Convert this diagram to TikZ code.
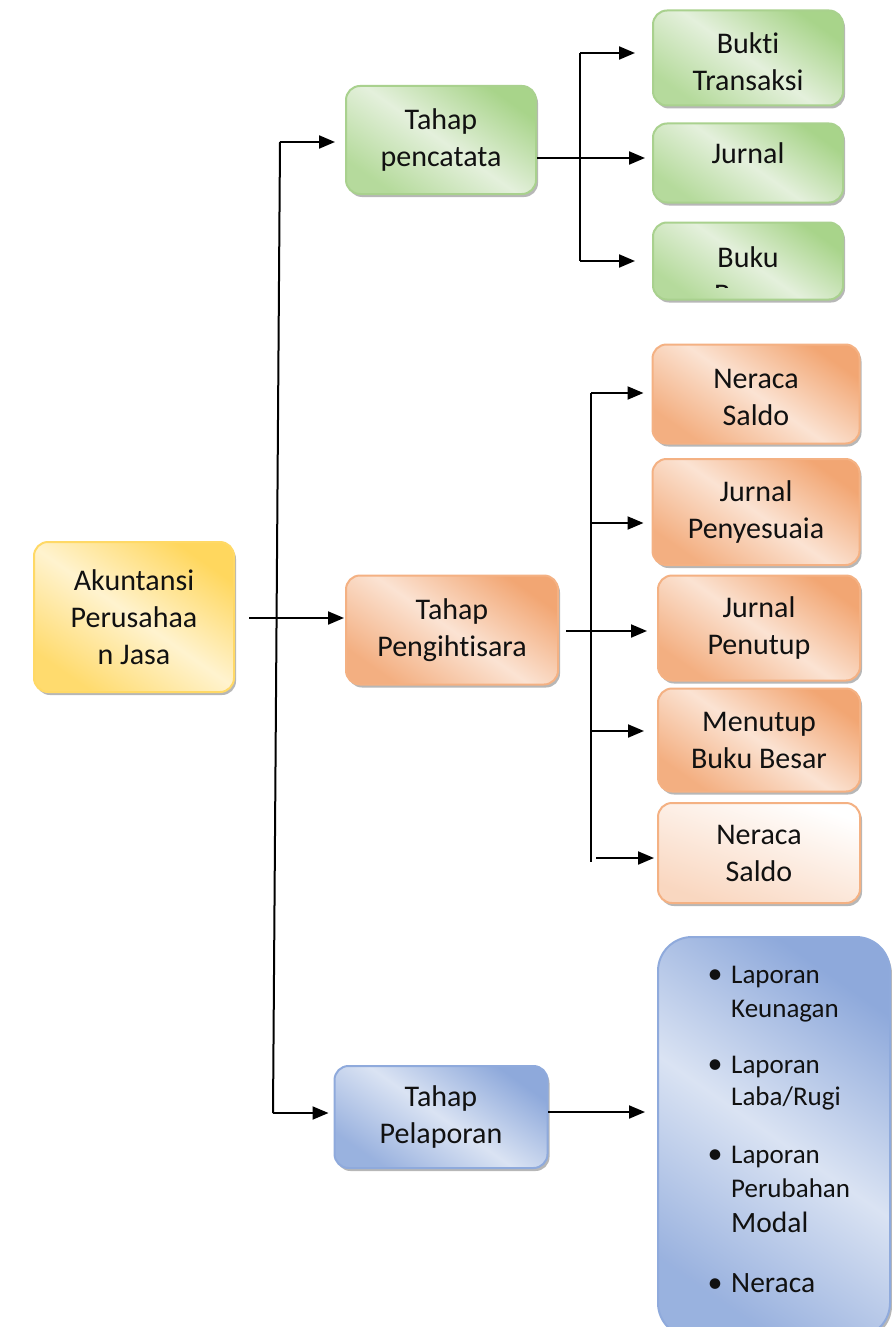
\documentclass[tikz,border=0pt]{standalone}
\usepackage{fontspec}
\setmainfont{Carlito}[RawFeature=-liga]
\usetikzlibrary{arrows.meta,shadows}
\definecolor{grnB}{HTML}{A9D18E}
\definecolor{grnD}{HTML}{A8D48A}
\definecolor{grnL}{HTML}{E4F0DC}
\definecolor{orgB}{HTML}{F4B183}
\definecolor{orgD}{HTML}{F2A673}
\definecolor{orgL}{HTML}{FBE3D3}
\definecolor{ylwB}{HTML}{FFD966}
\definecolor{ylwD}{HTML}{FFD75E}
\definecolor{ylwL}{HTML}{FFF3CF}
\definecolor{bluB}{HTML}{8FAADC}
\definecolor{bluD}{HTML}{8EA9DB}
\definecolor{bluL}{HTML}{DAE3F3}
\definecolor{txt}{HTML}{111111}
\newcommand{\lowertext}[2]{\raisebox{#1}[0pt][0pt]{\begin{tabular}{@{}c@{}}#2\end{tabular}}}
\begin{document}
\begin{tikzpicture}[x=1pt,y=-1pt,
  box/.style={rounded corners=14pt, draw, line width=2pt, align=center,
    text=txt, font=\fontsize{30}{37}\selectfont, inner sep=0pt,
    drop shadow={shadow xshift=2pt,shadow yshift=-3pt,fill=black!40,opacity=0.7}},
  grn/.style={box, draw=grnB, top color=grnD, bottom color=grnD!85!white, middle color=grnL, shading angle=-35},
  org/.style={box, draw=orgB, top color=orgD, bottom color=orgD!90!white, middle color=orgL, shading angle=-35},
  orgw/.style={box, draw=orgB, left color=white, right color=orgL!80!orgD, shading angle=-20},
  ylw/.style={box, draw=ylwB, top color=ylwD, bottom color=ylwD!90!white, middle color=ylwL, shading angle=-35},
  blu/.style={box, draw=bluB, top color=bluD, bottom color=bluD!90!white, middle color=bluL, shading angle=-35},
  conn/.style={line width=2pt, -{Triangle[length=16pt,width=13pt]}},
  trunk/.style={line width=2pt},
  btxt/.style={anchor=base west, inner sep=0pt, text=txt, font=\fontsize{27}{30}\selectfont},
  bbig/.style={anchor=base west, inner sep=0pt, text=txt, font=\fontsize{29.5}{30}\selectfont},
  bdot/.style={anchor=base, inner sep=0pt, text=txt, font=\fontsize{30}{30}\selectfont}
]
\useasboundingbox (0,0) rectangle (891,1327);
\fill[white] (0,0) rectangle (891,1327);

% nodes
\node[ylw, minimum width=200pt, minimum height=150pt] (akun) at (134,617) {Akuntansi\\Perusahaa\\n Jasa};
\node[grn, minimum width=190pt, minimum height=108pt] (pencatat) at (441,140) {Tahap\\pencatata};
\node[grn, minimum width=190pt, minimum height=95pt] (bukti) at (748,58) {\lowertext{-12.5pt}{Bukti\\Transaksi}};
\node[grn, minimum width=190pt, minimum height=79pt] (jurnal) at (748,163) {\raisebox{-1pt}[0pt][0pt]{Jurnal}};
\node[grn, minimum width=190pt, minimum height=77pt] (buku) at (748,261) {};
\begin{scope}
  \clip (655,226) rectangle (841,287);
  \node[align=center, text=txt, font=\fontsize{30}{37}\selectfont, inner sep=0pt] (bukutxt) at (748,276) {Buku\\Besar};
\end{scope}

\node[org, minimum width=212pt, minimum height=109pt] (pengih) at (452,630) {Tahap\\Pengihtisara};
\node[org, minimum width=207pt, minimum height=99pt] (ns1) at (756,394) {\lowertext{-11.5pt}{Neraca\\Saldo}};
\node[org, minimum width=207pt, minimum height=106pt] (jp) at (756,512) {Jurnal\\Penyesuaia};
\node[org, minimum width=202pt, minimum height=105pt] (jt) at (759,628) {Jurnal\\Penutup};
\node[org, minimum width=202pt, minimum height=103pt] (mb) at (759,740) {Menutup\\Buku Besar};
\node[orgw, minimum width=202pt, minimum height=100pt] (ns2) at (759,853) {Neraca\\Saldo};

\node[blu, minimum width=213pt, minimum height=102pt] (pelap) at (441,1117) {Tahap\\Pelaporan};
\node[blu, rounded corners=34pt, minimum width=232pt, minimum height=400pt] (lap) at (774,1137) {};

% bullet list
\node[bdot] (d1) at (715,983) {•};
\node[btxt] (l1) at (731,983) {Laporan};
\node[btxt] (l2) at (731,1017) {Keunagan};
\node[bdot] (d2) at (715,1073) {•};
\node[btxt] (l3) at (731,1073) {Laporan};
\node[btxt] (l4) at (731,1105) {Laba/Rugi};
\node[bdot] (d3) at (715,1163) {•};
\node[btxt] (l5) at (731,1163) {Laporan};
\node[btxt] (l6) at (731,1197) {Perubahan};
\node[bbig] (l7) at (731,1232) {Modal};
\node[bdot] (d4) at (715,1292) {•};
\node[bbig] (l8) at (731,1292) {Neraca};

% main trunk
\coordinate (t1) at (280,142);
\coordinate (t2) at (273,1113);
\draw[trunk] (t1) -- (t2);
\draw[conn, shorten >=10pt] (t1) -- (t1 -| pencatat.west);
\draw[conn, shorten >=5pt] (t2) -- (t2 -| pelap.west);
\coordinate (a1) at (249,618);
\draw[conn, shorten >=1pt] (a1) -- (a1 -| pengih.west);

% pencatatan branch
\coordinate (p1) at (580,53);
\coordinate (p2) at (580,261);
\coordinate (pm) at (537,158);
\draw[trunk] (p1) -- (p2);
\draw[conn, shorten >=17pt] (p1) -- (p1 -| bukti.west);
\draw[conn, shorten >=7pt] (pm) -- (pm -| jurnal.west);
\draw[conn, shorten >=17pt] (p2) -- (p2 -| buku.west);

% pengihtisaran branch
\coordinate (q1) at (591,393);
\coordinate (q2) at (591,862);
\coordinate (qm) at (566,631);
\coordinate (qa) at (591,523);
\coordinate (qb) at (591,731);
\coordinate (qc) at (596,858);
\draw[trunk] (q1) -- (q2);
\draw[conn, shorten >=8pt] (q1) -- (q1 -| ns1.west);
\draw[conn, shorten >=8pt] (qa) -- (qa -| jp.west);
\draw[conn, shorten >=10pt] (qm) -- (qm -| jt.west);
\draw[conn, shorten >=13pt] (qb) -- (qb -| mb.west);
\draw[conn, shorten >=3pt] (qc) -- (qc -| ns2.west);

% pelaporan
\coordinate (r1) at (548,1112);
\draw[conn, shorten >=12pt] (r1) -- (r1 -| lap.west);
\end{tikzpicture}
\end{document}
